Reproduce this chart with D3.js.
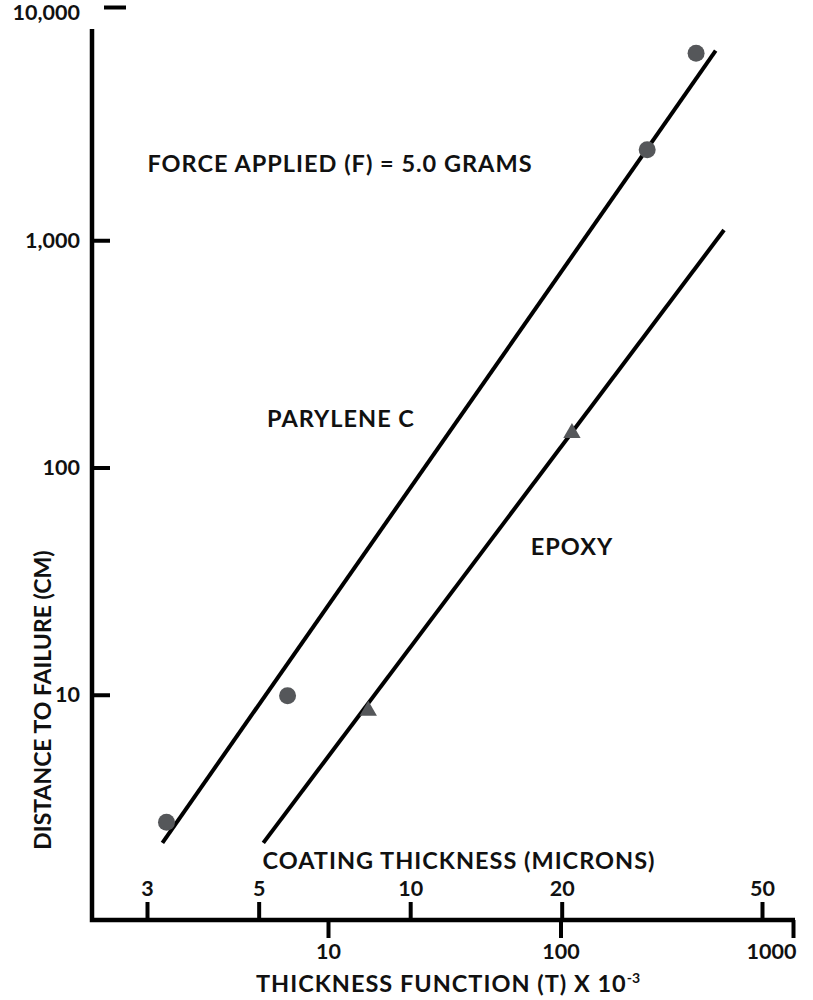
<!DOCTYPE html>
<html>
<head>
<meta charset="utf-8">
<script src="https://cdn.jsdelivr.net/npm/d3@7"></script>
<style>
  body { margin: 0; background: #fff; }
  text { font-family: Lato, "Open Sans", sans-serif; font-weight: 700; fill: #111; }
  .lbl { font-size: 23.5px; letter-spacing: 1px; }
</style>
</head>
<body>
<div id="chart"></div>
<script>
// tick values and labels
var yTicks = [10, 100, 1000, 10000];
var yTickLabels = ["10", "100", "1,000", "10,000"];
var tTicks = [10, 100, 1000];
var micronTicks = [3, 5, 10, 20, 50];

// measured points (thickness function T, distance to failure in cm)
var paryleneT = [2.02, 6.7, 236, 383];
var paryleneD = [2.75, 9.9, 2500, 6650];
var epoxyT = [14.9, 112];
var epoxyD = [8.5, 142];

// straight fits drawn through each set
var paryleneFitT = [1.94, 465];
var paryleneFitD = [2.23, 6830];
var epoxyFitT = [5.27, 505];
var epoxyFitD = [2.23, 1109];

var width = 813, height = 1000;
var axisX = 92, axisY = 920;

var x = d3.scaleLog().domain([10, 1000]).range([328, 793]);
var xm = d3.scaleLog().domain([3, 50]).range([147, 762]);
var y = d3.scaleLog().domain([1, 10000]).range([922, 13]);

var svg = d3.select("#chart")
    .append("svg")
        .attr("width", width)
        .attr("height", height);

var line = d3.line()
    .x(function(d) { return x(d[0]); })
    .y(function(d) { return y(d[1]); });

// fit lines
svg.append("path")
    .attr("d", line(d3.zip(paryleneFitT, paryleneFitD)))
    .style("stroke", "#000")
    .style("stroke-width", 4)
    .style("fill", "none");

svg.append("path")
    .attr("d", line(d3.zip(epoxyFitT, epoxyFitD)))
    .style("stroke", "#000")
    .style("stroke-width", 4)
    .style("fill", "none");

// parylene points
svg.selectAll(".pc")
    .data(d3.zip(paryleneT, paryleneD))
    .enter().append("circle")
        .attr("class", "pc")
        .attr("cx", function(d) { return x(d[0]); })
        .attr("cy", function(d) { return y(d[1]); })
        .attr("r", 8.5)
        .style("fill", "#55575a");

// epoxy points
var tri = d3.symbol().type(d3.symbolTriangle).size(130);
svg.selectAll(".ep")
    .data(d3.zip(epoxyT, epoxyD))
    .enter().append("path")
        .attr("class", "ep")
        .attr("d", tri)
        .attr("transform", function(d) { return "translate(" + x(d[0]) + "," + y(d[1]) + ")"; })
        .style("fill", "#55575a");

// left axis
var yAxis = d3.axisLeft(y)
    .tickValues(yTicks)
    .tickSize(-18)
    .tickPadding(12)
    .tickFormat(function(d, i) { return yTickLabels[i]; });

var gy = svg.append("g")
    .attr("transform", "translate(" + axisX + ",0)")
    .call(yAxis);
gy.select(".domain").remove();
gy.selectAll(".tick line").style("stroke", "#000").style("stroke-width", 4);
gy.selectAll(".tick text").style("font-size", "21.5px").style("font-family", "Lato").style("fill", "#111");
// the top tick is a loose dash off the axis
gy.selectAll(".tick").filter(function(d) { return d === 10000; }).select("line")
    .attr("x1", 12).attr("x2", 34).attr("y1", -6).attr("y2", -6);

// bottom axis: thickness function
var xAxis = d3.axisBottom(x)
    .tickValues(tTicks)
    .tickSize(18)
    .tickPadding(6)
    .tickFormat(d3.format("d"));

var gx = svg.append("g")
    .attr("transform", "translate(0," + axisY + ")")
    .call(xAxis);
gx.select(".domain").remove();
gx.selectAll(".tick line").style("stroke", "#000").style("stroke-width", 4);
gx.selectAll(".tick text").style("font-size", "21.5px").style("font-family", "Lato").style("fill", "#111");
gx.selectAll(".tick").filter(function(d) { return d === 1000; }).select("text")
    .attr("text-anchor", "end").attr("x", 3);

// top-side ticks: coating thickness in microns
var mAxis = d3.axisTop(xm)
    .tickValues(micronTicks)
    .tickSize(18)
    .tickPadding(6)
    .tickFormat(d3.format("d"));

var gm = svg.append("g")
    .attr("transform", "translate(0," + axisY + ")")
    .call(mAxis);
gm.select(".domain").remove();
gm.selectAll(".tick line").style("stroke", "#000").style("stroke-width", 4);
gm.selectAll(".tick text").style("font-size", "21.5px").style("font-family", "Lato").style("fill", "#111");

// axis lines
svg.append("path")
    .attr("d", "M" + axisX + ",29V" + axisY + "H795")
    .style("stroke", "#000")
    .style("stroke-width", 4.5)
    .style("fill", "none");

// labels
svg.append("text")
    .attr("class", "lbl")
    .attr("x", 340).attr("y", 172)
    .attr("text-anchor", "middle")
    .text("FORCE APPLIED (F) = 5.0 GRAMS");

svg.append("text")
    .attr("class", "lbl")
    .attr("x", 341).attr("y", 427)
    .attr("text-anchor", "middle")
    .text("PARYLENE C");

svg.append("text")
    .attr("class", "lbl")
    .attr("x", 572).attr("y", 555)
    .attr("text-anchor", "middle")
    .text("EPOXY");

svg.append("text")
    .attr("class", "lbl")
    .attr("x", 459).attr("y", 869)
    .attr("text-anchor", "middle")
    .text("COATING THICKNESS (MICRONS)");

var xl = svg.append("text")
    .attr("class", "lbl")
    .attr("x", 448).attr("y", 992)
    .attr("text-anchor", "middle");
xl.append("tspan").text("THICKNESS FUNCTION (T) X 10");
xl.append("tspan").attr("dy", -9).style("font-size", "14px").style("letter-spacing", "0").text("-3");

svg.append("text")
    .attr("transform", "translate(51,700) rotate(-90)")
    .attr("text-anchor", "middle")
    .style("font-size", "23px")
    .text("DISTANCE TO FAILURE (CM)");
</script>
</body>
</html>
